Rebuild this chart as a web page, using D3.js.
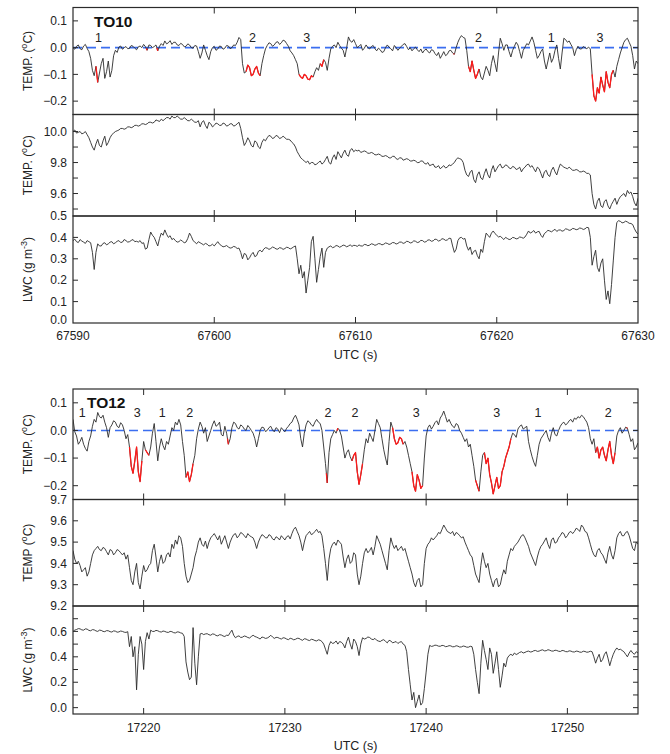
<!DOCTYPE html>
<html>
<head>
<meta charset="utf-8">
<script src="https://cdn.jsdelivr.net/npm/d3@7"></script>
<style>
  html, body { margin: 0; padding: 0; background: #fff; }
  svg { display: block; font-family: "Liberation Sans", Arial, Helvetica, sans-serif; }
</style>
</head>
<body>
<svg id="chart" width="670" height="754"></svg>
<script>
// ---- Flight TO10: samples every 0.125 s from 67590 s UTC ----
const to10Start = 67590;
const to10Step = 0.125;
// temperature deviation (°C)
const to10Dev = [
  0.000,-0.006,0.005,0.010,-0.004,-0.008,0.006,0.012,-0.003,-0.015,-0.040,-0.085,-0.105,-0.070,-0.130,-0.095,
  -0.060,-0.040,-0.115,-0.090,-0.050,-0.110,-0.085,-0.030,-0.010,-0.018,0.002,0.006,-0.006,0.000,0.004,-0.004,
  -0.003,0.008,0.005,-0.002,-0.008,0.003,0.006,0.000,0.012,0.004,-0.010,0.010,0.008,0.000,0.004,0.010,
  -0.012,0.005,0.015,0.008,0.025,0.014,0.018,0.026,0.012,0.020,0.020,0.010,0.008,0.016,0.012,0.003,
  0.005,0.014,0.010,0.000,-0.002,0.008,0.006,-0.015,-0.040,-0.020,0.010,-0.010,-0.030,-0.045,-0.015,0.000,
  0.005,-0.010,-0.005,0.006,0.004,-0.006,-0.002,0.008,0.006,-0.004,0.000,0.010,0.008,0.020,0.038,0.030,
  -0.060,-0.095,-0.090,-0.065,-0.075,-0.105,-0.100,-0.080,-0.070,-0.095,-0.105,-0.060,-0.030,-0.005,0.008,0.018,
  0.015,0.005,0.010,0.020,0.022,0.012,0.018,0.028,0.025,0.015,0.005,-0.012,-0.020,-0.030,-0.045,-0.060,
  -0.100,-0.110,-0.115,-0.100,-0.105,-0.118,-0.120,-0.105,-0.110,-0.090,-0.075,-0.085,-0.060,-0.070,-0.045,-0.055,
  -0.085,-0.040,-0.005,0.005,0.010,0.000,0.020,0.008,-0.002,-0.010,-0.035,0.000,0.040,0.025,0.020,0.030,
  0.015,0.000,0.005,0.012,-0.010,-0.002,0.010,0.000,-0.005,0.004,0.008,-0.004,-0.012,-0.002,-0.008,-0.018,
  -0.015,0.000,0.010,0.002,-0.004,-0.012,0.008,0.000,-0.010,-0.002,0.005,0.012,0.015,0.004,-0.008,0.000,
  -0.012,-0.004,0.002,-0.008,-0.015,-0.005,-0.020,-0.010,-0.005,-0.015,-0.020,-0.008,-0.010,-0.022,-0.030,-0.018,
  -0.040,-0.028,-0.015,-0.030,-0.025,-0.012,-0.010,-0.020,-0.025,0.000,0.020,0.035,0.045,0.038,0.035,-0.010,
  -0.070,-0.090,-0.050,-0.085,-0.115,-0.100,-0.080,-0.110,-0.120,-0.095,-0.070,-0.085,-0.105,-0.060,-0.030,-0.060,
  -0.090,-0.020,0.035,0.015,-0.010,0.010,0.010,-0.015,-0.035,-0.010,0.005,0.020,0.010,-0.015,-0.040,-0.010,
  0.002,0.015,0.010,0.025,0.040,0.020,-0.010,-0.040,-0.030,-0.015,-0.005,-0.050,-0.080,-0.050,-0.020,-0.055,
  -0.040,-0.010,0.010,-0.040,-0.080,-0.020,0.035,0.030,0.020,0.025,0.012,0.000,-0.030,-0.008,0.005,-0.005,
  -0.005,0.004,0.000,-0.004,0.002,-0.005,-0.100,-0.180,-0.200,-0.150,-0.170,-0.110,-0.140,-0.165,-0.090,-0.130,
  -0.150,-0.100,-0.085,-0.110,-0.070,-0.045,-0.020,0.000,0.020,0.030,0.035,0.020,0.005,-0.030,-0.080,-0.050,
  -0.060
];
// temperature (°C)
const to10Temp = [
  10.00,10.01,9.99,9.995,10.00,9.985,9.99,10.00,9.98,9.96,9.93,9.90,9.88,9.92,9.95,9.91,
  9.90,9.94,9.97,9.91,9.93,9.96,9.98,9.99,10.00,10.005,10.01,10.02,10.02,10.015,10.02,10.03,
  10.03,10.025,10.03,10.04,10.04,10.035,10.04,10.05,10.05,10.045,10.05,10.06,10.06,10.055,10.06,10.075,
  10.07,10.065,10.08,10.07,10.08,10.09,10.09,10.08,10.10,10.09,10.09,10.10,10.09,10.08,10.08,10.09,
  10.08,10.07,10.07,10.08,10.07,10.06,10.06,10.07,10.03,10.06,10.07,10.04,10.02,10.06,10.05,10.03,
  10.04,10.055,10.05,10.04,10.04,10.055,10.05,10.035,10.04,10.05,10.05,10.035,10.04,10.05,10.06,10.02,
  9.96,9.91,9.93,9.96,9.94,9.91,9.90,9.94,9.93,9.90,9.89,9.93,9.95,9.94,9.96,9.975,
  9.97,9.955,9.96,9.975,9.97,9.955,9.96,9.97,9.96,9.95,9.95,9.945,9.93,9.92,9.90,9.87,
  9.85,9.83,9.82,9.81,9.80,9.81,9.79,9.80,9.80,9.785,9.79,9.80,9.81,9.79,9.80,9.82,
  9.84,9.80,9.79,9.83,9.85,9.82,9.87,9.85,9.83,9.86,9.88,9.85,9.84,9.88,9.89,9.87,
  9.88,9.875,9.88,9.865,9.87,9.875,9.87,9.86,9.86,9.865,9.86,9.85,9.85,9.855,9.85,9.84,
  9.84,9.845,9.84,9.83,9.83,9.84,9.84,9.825,9.82,9.83,9.83,9.815,9.82,9.825,9.82,9.81,
  9.81,9.815,9.81,9.80,9.80,9.81,9.81,9.795,9.79,9.80,9.78,9.785,9.79,9.77,9.77,9.78,
  9.76,9.77,9.78,9.765,9.77,9.785,9.78,9.79,9.80,9.82,9.83,9.825,9.82,9.80,9.75,9.72,
  9.71,9.74,9.75,9.69,9.67,9.72,9.74,9.70,9.69,9.73,9.76,9.72,9.70,9.75,9.78,9.74,
  9.76,9.78,9.79,9.765,9.77,9.785,9.78,9.765,9.76,9.775,9.77,9.755,9.76,9.77,9.74,9.76,
  9.77,9.785,9.79,9.77,9.78,9.76,9.74,9.77,9.76,9.73,9.70,9.74,9.75,9.72,9.71,9.75,
  9.77,9.74,9.72,9.76,9.79,9.78,9.77,9.765,9.76,9.77,9.76,9.75,9.75,9.755,9.75,9.74,
  9.74,9.745,9.74,9.73,9.73,9.72,9.60,9.53,9.50,9.55,9.57,9.52,9.51,9.55,9.56,9.52,
  9.50,9.53,9.55,9.57,9.53,9.56,9.58,9.59,9.60,9.58,9.62,9.60,9.61,9.58,9.54,9.52,
  9.57
];
// liquid water content (g m-3)
const to10Lwc = [
  0.385,0.392,0.380,0.376,0.390,0.383,0.378,0.372,0.385,0.380,0.375,0.330,0.250,0.330,0.370,0.360,
  0.360,0.372,0.375,0.365,0.370,0.378,0.380,0.370,0.375,0.382,0.385,0.376,0.378,0.390,0.385,0.378,
  0.380,0.386,0.390,0.380,0.382,0.378,0.385,0.372,0.375,0.345,0.350,0.390,0.425,0.410,0.400,0.380,
  0.360,0.395,0.420,0.410,0.435,0.415,0.400,0.408,0.390,0.395,0.385,0.378,0.380,0.388,0.382,0.375,
  0.378,0.395,0.420,0.405,0.385,0.378,0.370,0.380,0.375,0.370,0.365,0.372,0.368,0.360,0.362,0.368,
  0.360,0.370,0.380,0.368,0.362,0.356,0.358,0.362,0.355,0.350,0.352,0.358,0.355,0.348,0.350,0.330,
  0.300,0.325,0.320,0.295,0.305,0.320,0.330,0.310,0.315,0.335,0.340,0.332,0.345,0.352,0.350,0.344,
  0.348,0.355,0.352,0.346,0.345,0.352,0.350,0.344,0.348,0.354,0.352,0.346,0.350,0.356,0.360,0.300,
  0.230,0.270,0.210,0.240,0.140,0.200,0.260,0.380,0.405,0.300,0.190,0.250,0.310,0.350,0.260,0.330,
  0.350,0.356,0.360,0.352,0.355,0.362,0.360,0.354,0.358,0.364,0.362,0.356,0.360,0.365,0.358,0.363,
  0.362,0.358,0.365,0.360,0.360,0.367,0.366,0.361,0.364,0.370,0.368,0.363,0.366,0.371,0.370,0.365,
  0.368,0.374,0.372,0.367,0.370,0.376,0.375,0.369,0.372,0.378,0.378,0.372,0.375,0.382,0.380,0.374,
  0.376,0.384,0.382,0.376,0.378,0.386,0.385,0.378,0.380,0.388,0.388,0.382,0.384,0.392,0.390,0.383,
  0.386,0.394,0.392,0.386,0.388,0.396,0.395,0.360,0.330,0.345,0.385,0.398,0.400,0.392,0.395,0.360,
  0.340,0.355,0.320,0.335,0.340,0.315,0.300,0.345,0.330,0.380,0.420,0.410,0.400,0.420,0.430,0.418,
  0.410,0.402,0.405,0.398,0.390,0.400,0.395,0.390,0.392,0.400,0.398,0.393,0.395,0.402,0.400,0.396,
  0.402,0.415,0.430,0.420,0.425,0.432,0.420,0.426,0.428,0.410,0.400,0.418,0.425,0.433,0.430,0.426,
  0.432,0.438,0.428,0.434,0.435,0.429,0.432,0.440,0.438,0.433,0.435,0.442,0.440,0.436,0.438,0.444,
  0.442,0.437,0.440,0.447,0.445,0.400,0.270,0.310,0.340,0.260,0.240,0.280,0.300,0.200,0.110,0.150,
  0.090,0.180,0.290,0.400,0.470,0.478,0.475,0.468,0.470,0.476,0.472,0.466,0.465,0.460,0.440,0.425,
  0.415
];
// stretches of the TO10 deviation trace drawn in red (UTC s)
const to10RedSpans = [
  [67591.6, 67591.85], [67595.2, 67595.3], [67595.95, 67596.05], [67602.2, 67603.3],
  [67605.9, 67607.1], [67607.4, 67607.8], [67617.0, 67617.05], [67617.95, 67618.8],
  [67626.7, 67628.3]
];
const to10EventTimes = [67591.8, 67602.7, 67606.55, 67618.7, 67623.85, 67627.3];
const to10EventLabels = ["1", "2", "3", "2", "1", "3"];
const to10Ticks = [67590, 67600, 67610, 67620, 67630];

// ---- Flight TO12: samples every 0.125 s from 17215 s UTC ----
const to12Start = 17215;
const to12Step = 0.125;
// temperature deviation (°C)
const to12Dev = [
  0.040,-0.005,-0.020,-0.050,-0.040,-0.025,-0.050,-0.065,-0.075,-0.040,-0.020,0.015,0.040,0.030,0.065,0.050,
  0.045,0.055,0.030,0.010,-0.025,0.010,0.020,0.035,0.030,0.015,0.010,0.028,0.020,0.000,-0.030,-0.015,
  -0.060,-0.130,-0.155,-0.110,-0.060,-0.150,-0.185,-0.110,-0.040,-0.070,-0.080,-0.090,-0.060,-0.010,0.025,-0.040,
  -0.110,-0.060,-0.030,-0.055,-0.070,-0.040,-0.050,-0.020,0.010,0.000,0.030,0.020,0.040,0.020,-0.040,-0.090,
  -0.170,-0.150,-0.185,-0.160,-0.120,-0.090,-0.030,0.005,0.030,0.015,-0.010,0.010,-0.040,-0.020,0.000,0.020,
  0.035,0.015,0.020,0.030,-0.015,-0.020,0.015,-0.010,-0.050,-0.030,0.010,0.030,0.025,0.010,0.005,0.020,
  0.015,0.005,0.000,0.018,0.010,0.000,-0.010,-0.030,-0.060,-0.030,0.000,0.012,0.010,-0.004,0.000,0.010,
  0.015,0.002,-0.005,0.010,0.005,-0.008,0.010,0.002,-0.005,0.008,0.015,0.025,0.030,0.045,0.055,0.040,
  0.020,-0.030,-0.060,-0.010,0.020,0.035,0.030,0.020,0.015,0.030,0.040,0.030,0.025,0.000,-0.060,-0.120,
  -0.190,-0.080,-0.030,-0.015,0.000,-0.010,0.008,0.000,-0.020,-0.060,-0.100,-0.080,-0.070,-0.095,-0.110,-0.090,
  -0.080,-0.150,-0.195,-0.160,-0.120,-0.070,-0.030,-0.045,-0.010,-0.025,-0.040,0.000,0.040,0.025,0.010,-0.030,
  -0.070,-0.100,-0.125,-0.040,0.030,0.010,-0.030,-0.050,-0.045,-0.025,-0.030,-0.050,-0.040,-0.060,-0.090,-0.120,
  -0.150,-0.200,-0.220,-0.160,-0.180,-0.210,-0.200,-0.100,-0.020,0.010,0.020,0.005,0.015,0.028,0.035,0.020,
  0.045,0.055,0.070,0.050,0.030,0.040,0.025,0.015,0.010,0.025,0.020,0.000,-0.010,-0.025,-0.040,-0.030,
  -0.060,-0.050,-0.090,-0.130,-0.180,-0.200,-0.220,-0.150,-0.090,-0.080,-0.120,-0.100,-0.160,-0.190,-0.230,-0.200,
  -0.170,-0.210,-0.200,-0.150,-0.130,-0.100,-0.080,-0.060,-0.030,-0.010,-0.015,-0.025,0.005,0.015,0.020,0.005,
  0.010,0.015,-0.040,-0.070,-0.095,-0.115,-0.130,-0.090,-0.050,-0.030,-0.020,-0.010,0.000,-0.025,-0.040,-0.010,
  0.010,-0.015,-0.020,0.000,0.015,0.025,0.030,0.020,0.025,0.035,0.040,0.030,0.045,0.040,0.050,0.045,
  0.055,0.050,0.040,0.030,0.010,-0.030,-0.050,-0.030,-0.080,-0.060,-0.100,-0.070,-0.060,-0.090,-0.110,-0.070,
  -0.040,-0.090,-0.120,-0.080,-0.020,0.000,0.010,-0.010,0.000,0.012,0.008,-0.015,-0.040,-0.030,-0.070,-0.060,
  -0.045
];
// temperature (°C)
const to12Temp = [
  9.46,9.42,9.40,9.41,9.39,9.36,9.37,9.38,9.34,9.36,9.40,9.44,9.46,9.47,9.48,9.465,
  9.46,9.475,9.47,9.455,9.44,9.465,9.46,9.44,9.45,9.465,9.46,9.45,9.44,9.45,9.42,9.44,
  9.38,9.32,9.30,9.36,9.40,9.31,9.28,9.34,9.39,9.36,9.37,9.39,9.40,9.46,9.49,9.43,
  9.36,9.41,9.44,9.40,9.41,9.44,9.45,9.43,9.49,9.47,9.51,9.49,9.53,9.52,9.48,9.40,
  9.34,9.31,9.32,9.35,9.38,9.43,9.46,9.50,9.52,9.49,9.48,9.505,9.47,9.50,9.52,9.53,
  9.54,9.525,9.51,9.53,9.49,9.51,9.53,9.50,9.47,9.50,9.52,9.535,9.54,9.52,9.53,9.545,
  9.54,9.53,9.52,9.54,9.53,9.525,9.52,9.50,9.47,9.50,9.52,9.535,9.53,9.52,9.52,9.535,
  9.53,9.515,9.51,9.525,9.52,9.51,9.53,9.52,9.51,9.525,9.53,9.515,9.54,9.56,9.57,9.55,
  9.53,9.50,9.46,9.50,9.53,9.54,9.55,9.535,9.54,9.55,9.56,9.545,9.55,9.53,9.47,9.40,
  9.32,9.42,9.47,9.49,9.50,9.485,9.51,9.50,9.49,9.43,9.38,9.42,9.44,9.40,9.41,9.45,
  9.44,9.35,9.30,9.34,9.40,9.45,9.47,9.45,9.46,9.475,9.44,9.48,9.53,9.51,9.49,9.46,
  9.43,9.40,9.37,9.46,9.52,9.49,9.47,9.485,9.46,9.47,9.48,9.46,9.47,9.44,9.41,9.38,
  9.35,9.31,9.29,9.32,9.33,9.29,9.30,9.40,9.47,9.49,9.50,9.52,9.51,9.52,9.53,9.545,
  9.54,9.56,9.58,9.565,9.55,9.545,9.54,9.55,9.53,9.545,9.54,9.53,9.52,9.525,9.50,9.48,
  9.46,9.44,9.43,9.39,9.35,9.33,9.31,9.39,9.45,9.41,9.38,9.40,9.35,9.32,9.29,9.32,
  9.33,9.29,9.30,9.34,9.37,9.35,9.41,9.44,9.47,9.46,9.48,9.49,9.50,9.515,9.53,9.535,
  9.52,9.50,9.48,9.45,9.43,9.41,9.39,9.43,9.46,9.48,9.49,9.505,9.52,9.49,9.47,9.51,
  9.52,9.495,9.50,9.52,9.53,9.545,9.54,9.52,9.53,9.545,9.55,9.54,9.55,9.565,9.56,9.55,
  9.58,9.57,9.55,9.545,9.52,9.49,9.46,9.44,9.43,9.46,9.47,9.45,9.44,9.42,9.40,9.45,
  9.48,9.44,9.42,9.46,9.52,9.54,9.55,9.53,9.53,9.545,9.55,9.53,9.50,9.47,9.46,9.50,
  9.49
];
// liquid water content (g m-3)
const to12Lwc = [
  0.600,0.610,0.615,0.622,0.620,0.612,0.610,0.620,0.618,0.608,0.605,0.614,0.612,0.604,0.600,0.610,
  0.608,0.600,0.598,0.606,0.605,0.598,0.595,0.604,0.602,0.594,0.596,0.603,0.600,0.594,0.592,0.598,
  0.480,0.560,0.400,0.480,0.140,0.420,0.560,0.500,0.300,0.520,0.590,0.540,0.610,0.600,0.600,0.608,
  0.605,0.598,0.595,0.603,0.600,0.594,0.592,0.600,0.598,0.590,0.588,0.596,0.595,0.588,0.585,0.560,
  0.360,0.280,0.220,0.240,0.630,0.350,0.180,0.400,0.580,0.584,0.575,0.580,0.582,0.574,0.570,0.580,
  0.578,0.568,0.565,0.574,0.572,0.564,0.560,0.570,0.568,0.590,0.610,0.570,0.550,0.560,0.565,0.552,
  0.555,0.564,0.560,0.552,0.548,0.560,0.570,0.560,0.555,0.548,0.540,0.556,0.552,0.545,0.548,0.556,
  0.570,0.556,0.545,0.553,0.552,0.545,0.540,0.550,0.548,0.540,0.535,0.546,0.542,0.534,0.538,0.546,
  0.545,0.536,0.530,0.542,0.540,0.532,0.528,0.538,0.535,0.528,0.525,0.534,0.530,0.520,0.500,0.460,
  0.420,0.490,0.520,0.505,0.510,0.525,0.500,0.520,0.515,0.500,0.470,0.520,0.555,0.500,0.460,0.540,
  0.520,0.480,0.410,0.500,0.550,0.540,0.545,0.556,0.552,0.540,0.535,0.545,0.530,0.524,0.520,0.530,
  0.535,0.522,0.510,0.530,0.525,0.510,0.515,0.520,0.505,0.515,0.520,0.500,0.490,0.440,0.300,0.180,
  0.060,0.120,0.000,0.050,0.100,0.020,0.040,0.150,0.280,0.420,0.490,0.482,0.485,0.492,0.490,0.484,
  0.483,0.490,0.488,0.480,0.482,0.488,0.486,0.479,0.480,0.487,0.484,0.477,0.478,0.485,0.482,0.476,
  0.476,0.483,0.480,0.420,0.300,0.200,0.110,0.350,0.530,0.450,0.380,0.300,0.470,0.420,0.270,0.350,
  0.440,0.300,0.160,0.250,0.350,0.320,0.390,0.410,0.420,0.410,0.430,0.418,0.425,0.435,0.440,0.430,
  0.435,0.442,0.445,0.438,0.440,0.448,0.450,0.443,0.445,0.452,0.455,0.447,0.448,0.456,0.452,0.446,
  0.445,0.452,0.450,0.444,0.442,0.450,0.448,0.441,0.440,0.447,0.445,0.439,0.438,0.445,0.443,0.437,
  0.436,0.444,0.442,0.436,0.438,0.444,0.440,0.400,0.350,0.390,0.420,0.360,0.380,0.420,0.440,0.390,
  0.330,0.380,0.420,0.450,0.470,0.455,0.460,0.450,0.440,0.420,0.400,0.430,0.450,0.430,0.420,0.440,
  0.430
];
// stretches of the TO12 deviation trace drawn in red (UTC s)
const to12RedSpans = [
  [17219.0, 17219.9], [17220.1, 17220.4], [17222.9, 17223.6], [17225.9, 17226.05],
  [17232.9, 17233.05], [17233.7, 17233.8], [17234.7, 17235.6], [17237.6, 17238.4],
  [17238.9, 17239.8], [17243.4, 17243.8], [17244.1, 17246.0], [17251.9, 17253.4],
  [17254.2, 17254.3]
];
const to12EventTimes = [17215.66, 17219.55, 17221.32, 17223.26, 17233.05, 17234.96, 17239.3, 17245.0, 17247.92, 17252.9];
const to12EventLabels = ["1", "3", "1", "2", "2", "2", "3", "3", "1", "2"];
const to12Ticks = [17220, 17230, 17240, 17250];

// ---- layout ----
const svg = d3.select("#chart");
const X0 = 73, X1 = 638;
const INK = "#2b2b2b";
const FONT = 12;

function sup(textSel, parts) {
  // parts: [[text, isSuper], ...]
  parts.forEach(([s, up]) => {
    const ts = textSel.append("tspan").text(s);
    if (up) ts.attr("baseline-shift", "super").attr("font-size", FONT * 0.75);
  });
}

function drawPanel(g, cfg) {
  const { x, top, bottom, domain, ticks, labels, fmt, ylab, xTicks } = cfg;
  const y = d3.scaleLinear().domain(domain).range([bottom, top]);
  // data trace
  const line = d3.line().x(d => x(d.t)).y(d => y(d.v));
  const pts = cfg.values.map((v, i) => ({ t: cfg.start + i * cfg.step, v }));
  const clipId = "clip" + Math.round(top);
  g.append("clipPath").attr("id", clipId).append("rect")
    .attr("x", X0).attr("y", top).attr("width", X1 - X0).attr("height", bottom - top);
  const body = g.append("g").attr("clip-path", `url(#${clipId})`);
  if (cfg.zeroLine) {
    body.append("line").attr("x1", X0).attr("x2", X1)
      .attr("y1", y(0)).attr("y2", y(0))
      .attr("stroke", "#3b6ef0").attr("stroke-width", 1.6).attr("stroke-dasharray", "9,5");
  }
  body.append("path").datum(pts).attr("d", line)
    .attr("fill", "none").attr("stroke", INK).attr("stroke-width", 0.9)
    .attr("stroke-linejoin", "round");
  if (cfg.red) {
    cfg.red.forEach(([a, b]) => {
      const seg = pts.filter(p => p.t >= a - 1e-9 && p.t <= b + 1e-9);
      if (seg.length === 1) {
        const i = pts.indexOf(seg[0]);
        seg.unshift({ t: (pts[i - 1].t + seg[0].t) / 2, v: (pts[i - 1].v + seg[0].v) / 2 });
      }
      body.append("path").datum(seg).attr("d", line)
        .attr("fill", "none").attr("stroke", "#ff1a1a").attr("stroke-width", 1.3)
        .attr("stroke-linejoin", "round");
    });
  }
  // frame
  g.append("rect").attr("x", X0).attr("y", top).attr("width", X1 - X0).attr("height", bottom - top)
    .attr("fill", "none").attr("stroke", INK).attr("stroke-width", 1.2);
  // y ticks (inward, both sides)
  const tl = 5;
  ticks.forEach(v => {
    const yy = y(v);
    g.append("line").attr("x1", X0).attr("x2", X0 + tl).attr("y1", yy).attr("y2", yy)
      .attr("stroke", INK).attr("stroke-width", 1);
    g.append("line").attr("x1", X1).attr("x2", X1 - tl).attr("y1", yy).attr("y2", yy)
      .attr("stroke", INK).attr("stroke-width", 1);
  });
  labels.forEach(v => {
    const yy = y(v);
    // a label sitting on the bottom edge is nudged up to clear the time labels
    const lift = Math.abs(yy - bottom) < 1 && cfg.isLast ? -3 : 0;
    g.append("text").attr("x", X0 - 6).attr("y", yy + lift).attr("dy", "0.35em")
      .attr("text-anchor", "end").attr("font-size", FONT).attr("fill", "#222")
      .text(fmt(v));
  });
  // x ticks at top and bottom edge (inward)
  xTicks.forEach(tv => {
    const xx = x(tv);
    if (xx <= X0 + 1 || xx >= X1 - 1) return;
    g.append("line").attr("x1", xx).attr("x2", xx).attr("y1", top).attr("y2", top + 6)
      .attr("stroke", INK).attr("stroke-width", 1);
    g.append("line").attr("x1", xx).attr("x2", xx).attr("y1", bottom).attr("y2", bottom - 6)
      .attr("stroke", INK).attr("stroke-width", 1);
  });
  // y title
  const yt = g.append("text")
    .attr("transform", `translate(${cfg.ylabX},${(top + bottom) / 2}) rotate(-90)`)
    .attr("text-anchor", "middle").attr("font-size", FONT).attr("fill", "#222");
  sup(yt, ylab);
  return y;
}

function drawGroup(cfg) {
  const g = svg.append("g");
  const x = d3.scaleLinear().domain([cfg.start, cfg.start + 40]).range([X0, X1]);
  cfg.panels.forEach((p, k) => {
    drawPanel(g, Object.assign({ x, start: cfg.start, step: cfg.step, xTicks: cfg.xTicks,
      ylabX: 32, isLast: k === 2 }, p));
  });
  // tick labels on the bottom axis
  const yb = cfg.panels[2].bottom;
  cfg.xTicks.forEach(tv => {
    g.append("text").attr("x", x(tv)).attr("y", yb + cfg.tickDy).attr("text-anchor", "middle")
      .attr("font-size", FONT).attr("fill", "#222").text(tv);
  });
  g.append("text").attr("x", (X0 + X1) / 2).attr("y", yb + 36).attr("text-anchor", "middle")
    .attr("font-size", 12.5).attr("fill", "#222").text("UTC (s)");
  // flight name
  g.append("text").attr("x", cfg.nameX).attr("y", cfg.panels[0].top + 19)
    .attr("font-size", 15.5).attr("font-weight", "bold").attr("fill", "#111").text(cfg.name);
  // event numbers above the dips
  cfg.eventTimes.forEach((tv, i) => {
    g.append("text").attr("x", x(tv)).attr("y", cfg.panels[0].top + cfg.eventDy)
      .attr("text-anchor", "middle").attr("font-size", 12.5).attr("fill", "#222")
      .text(cfg.eventLabels[i]);
  });
}

const f1 = d3.format(".1f");
const tempLab = [["TEMP. (", false], ["o", true], ["C)", false]];
const lwcLab = [["LWC (g m", false], ["-3", true], [")", false]];

drawGroup({
  name: "TO10", nameX: 94, start: to10Start, step: to10Step, xTicks: to10Ticks, tickDy: 17,
  eventTimes: to10EventTimes, eventLabels: to10EventLabels, eventDy: 34,
  panels: [
    { top: 7.5, bottom: 114.5, domain: [-0.25, 0.15], values: to10Dev, zeroLine: true, red: to10RedSpans,
      ticks: [-0.2, -0.1, 0, 0.1], labels: [-0.2, -0.1, 0, 0.1], fmt: f1, ylab: tempLab },
    { top: 114.5, bottom: 216, domain: [9.455, 10.11], values: to10Temp,
      ticks: [9.5, 9.6, 9.7, 9.8, 9.9, 10.0], labels: [9.6, 9.8, 10.0], fmt: f1, ylab: tempLab },
    { top: 216, bottom: 323, domain: [0, 0.5], values: to10Lwc,
      ticks: [0.1, 0.2, 0.3, 0.4], labels: [0, 0.1, 0.2, 0.3, 0.4, 0.5], fmt: f1, ylab: lwcLab }
  ]
});

drawGroup({
  name: "TO12", nameX: 87, start: to12Start, step: to12Step, xTicks: to12Ticks, tickDy: 18,
  eventTimes: to12EventTimes, eventLabels: to12EventLabels, eventDy: 28,
  panels: [
    { top: 389, bottom: 499.5, domain: [-0.25, 0.15], values: to12Dev, zeroLine: true, red: to12RedSpans,
      ticks: [-0.2, -0.1, 0, 0.1], labels: [-0.2, -0.1, 0, 0.1], fmt: f1, ylab: tempLab },
    { top: 499.5, bottom: 606, domain: [9.2, 9.7], values: to12Temp,
      ticks: [9.3, 9.4, 9.5, 9.6], labels: [9.2, 9.3, 9.4, 9.5, 9.6, 9.7], fmt: f1,
      ylab: [["TEMP (", false], ["o", true], ["C)", false]] },
    { top: 606, bottom: 714, domain: [-0.05, 0.8], values: to12Lwc,
      ticks: [0, 0.1, 0.2, 0.3, 0.4, 0.5, 0.6, 0.7], labels: [0, 0.2, 0.4, 0.6], fmt: f1, ylab: lwcLab }
  ]
});
</script>
</body>
</html>
